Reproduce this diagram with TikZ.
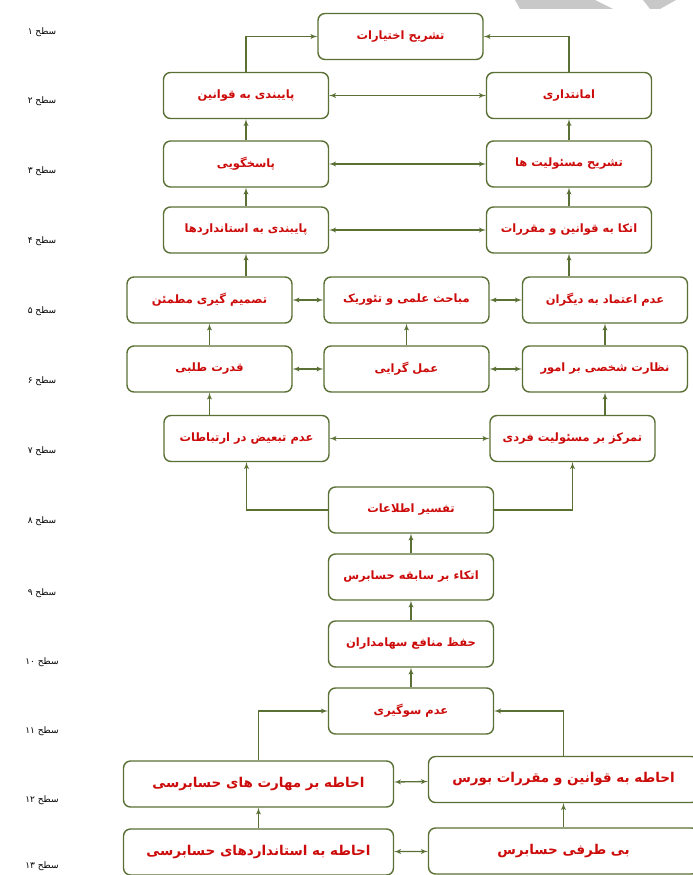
\documentclass[tikz,border=0pt]{standalone}
\usepackage{fontspec}
\newfontfamily\arabicfont[Script=Arabic]{DejaVu Sans}
\TeXXeTstate=1
\usetikzlibrary{arrows}
\usetikzlibrary{positioning}
\definecolor{boxgreen}{RGB}{90,112,52}
\definecolor{textred}{RGB}{204,10,10}
\definecolor{markgray}{RGB}{200,200,200}
\newcommand{\fa}[1]{\arabicfont\beginR #1\endR}

\begin{document}
\begin{tikzpicture}[x=1pt,y=-1pt,>=latex',node distance=67pt,
                    level box/.style={draw=boxgreen,line width=1.4pt,rounded corners=7pt,
                      minimum width=165pt,minimum height=46pt,text=textred,
                      font=\bfseries\fontsize{11.5}{13}\selectfont},
                    wide box/.style={level box,minimum width=270pt,
                      font=\bfseries\fontsize{13.5}{15}\selectfont},
                    level label/.style={font=\fontsize{9}{11}\selectfont},
                    link/.style={->,draw=boxgreen,line width=1.3pt},
                    both/.style={<->,draw=boxgreen,line width=1.3pt}]

  \useasboundingbox (0,0) rectangle (693,875);

  % watermark corner
  \fill[markgray] (515,0) -- (595,0) -- (613,9) -- (520,9) -- cycle;
  \fill[markgray] (643,0) -- (676,0) -- (660,9) -- (650,9) -- cycle;

  % level labels
  \foreach \d/\y in {۱/32,۲/101,۳/171,۴/241,۵/311,۶/381,۷/451,
                     ۸/521,۹/593,۱۰/662,۱۱/731,۱۲/800,۱۳/866}
    \node[level label] (s\y) at (42,\y) {\fa{سطح \d}};

  % levels 1 to 7
  \node[level box] (n1)  at (400.5,36.5) {\fa{تشریح اختیارات}};
  \node[level box] (n2l) at (246,95.5)  {\fa{پایبندی به قوانین}};
  \node[level box] (n2r) at (569,95.5)  {\fa{امانتداری}};
  \node[level box] (n3l) at (246,164)   {\fa{پاسخگویی}};
  \node[level box] (n3r) at (569,164)   {\fa{تشریح مسئولیت ها}};
  \node[level box] (n4l) at (246,230)   {\fa{پایبندی به استانداردها}};
  \node[level box] (n4r) at (569,230)   {\fa{اتکا به قوانین و مقررات}};
  \node[level box] (n5l) at (209.5,300) {\fa{تصمیم گیری مطمئن}};
  \node[level box] (n5m) at (406.5,300) {\fa{مباحث علمی و تئوریک}};
  \node[level box] (n5r) at (605,300)   {\fa{عدم اعتماد به دیگران}};
  \node[level box] (n6l) at (209.5,369) {\fa{قدرت طلبی}};
  \node[level box] (n6m) at (406.5,369) {\fa{عمل گرایی}};
  \node[level box] (n6r) at (605,369)   {\fa{نظارت شخصی بر امور}};
  \node[level box] (n7l) at (246.5,438.5) {\fa{عدم تبعیض در ارتباطات}};
  \node[level box] (n7r) at (572.5,438.5) {\fa{تمرکز بر مسئولیت فردی}};

  % middle column
  \node[level box] (n8)  at (411,510) {\fa{تفسیر اطلاعات}};
  \node[level box] (n9)  [below of=n8]  {\fa{اتکاء بر سابقه حسابرس}};
  \node[level box] (n10) [below of=n9]  {\fa{حفظ منافع سهامداران}};
  \node[level box] (n11) [below of=n10] {\fa{عدم سوگیری}};

  % levels 12 and 13
  \node[wide box] (n12l) at (258.5,784)   {\fa{احاطه بر مهارت های حسابرسی}};
  \node[wide box] (n12r) at (563.5,779.5) {\fa{احاطه به قوانین و مقررات بورس}};
  \node[wide box] (n13l) at (258.5,852)   {\fa{احاطه به استانداردهای حسابرسی}};
  \node[wide box] (n13r) at (563.5,851)   {\fa{بی طرفی حسابرس}};

  \draw[link] (n2l) |- (n1);
  \draw[link] (n2r) |- (n1);
  \draw[both] (n2l) -- (n2r);
  \draw[link] (n3l) -- (n2l);
  \draw[link] (n3r) -- (n2r);
  \draw[both] (n3l) -- (n3r);
  \draw[link] (n4l) -- (n3l);
  \draw[link] (n4r) -- (n3r);
  \draw[both] (n4l) -- (n4r);
  \draw[link] (n5l.north -| n4l) -- (n4l);
  \draw[link] (n5r.north -| n4r) -- (n4r);
  \draw[both] (n5l) -- (n5m);
  \draw[both] (n5m) -- (n5r);
  \draw[link] (n6l) -- (n5l);
  \draw[link] (n6m) -- (n5m);
  \draw[link] (n6r) -- (n5r);
  \draw[both] (n6l) -- (n6m);
  \draw[both] (n6m) -- (n6r);
  \draw[link] (n7l.north -| n6l) -- (n6l);
  \draw[link] (n7r.north -| n6r) -- (n6r);
  \draw[both] (n7l) -- (n7r);
  \draw[link] (n8) -| (n7l);
  \draw[link] (n8) -| (n7r);
  \draw[link] (n9) -- (n8);
  \draw[link] (n10) -- (n9);
  \draw[link] (n11) -- (n10);
  \draw[link] (n12l) |- (n11);
  \draw[link] (n12r) |- (n11);
  \draw[both] (n12l) -- (n12r);
  \draw[link] (n13l) -- (n12l);
  \draw[link] (n13r) -- (n12r);
  \draw[both] (n13l) -- (n13r);
\end{tikzpicture}
\end{document}
